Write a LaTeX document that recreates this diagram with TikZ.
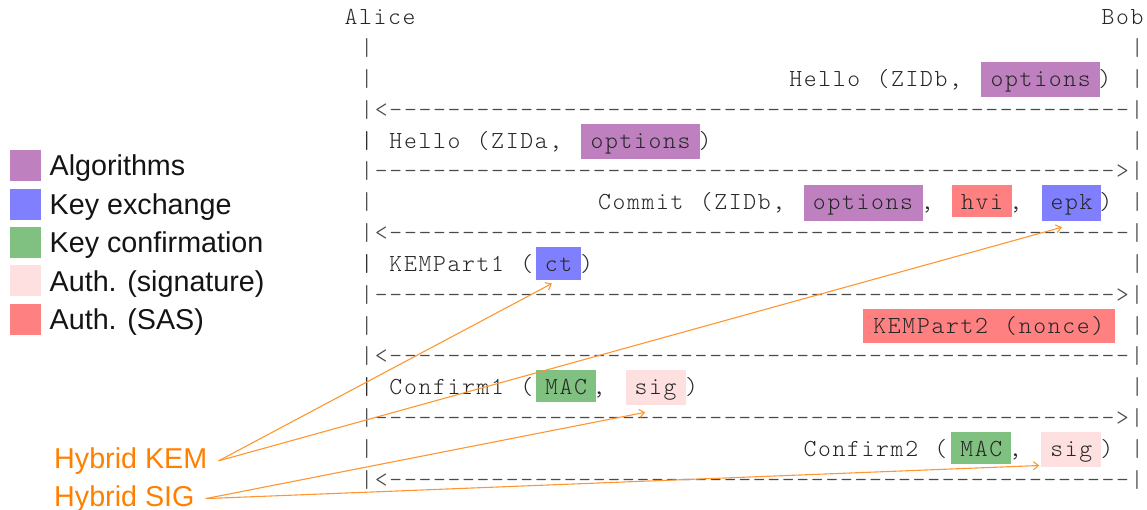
\documentclass[tikz,border=0pt]{standalone}
\usepackage{fontspec}
\usetikzlibrary{arrows.meta}
\newfontfamily\ascfont{lmmonolt10-regular.otf}
\newfontfamily\lsans{Liberation Sans}
\definecolor{calg}{HTML}{BF80BF}
\definecolor{ckex}{HTML}{8080FF}
\definecolor{ckc}{HTML}{80C080}
\definecolor{csig}{HTML}{FFE0E0}
\definecolor{csas}{HTML}{FF8080}
\definecolor{hybc}{HTML}{FF8000}
\definecolor{hybl}{HTML}{FF9630}
\definecolor{txt}{HTML}{262626}
\definecolor{artc}{HTML}{4A4A4A}
\ExplSyntaxOn
\NewDocumentCommand\asc{m}{\str_map_inline:nn{#1}{\makebox[14.534pt][c]{##1}}}
\NewDocumentCommand\dashes{}{\prg_replicate:nn{51}{\makebox[14.534pt][c]{-}}}
\ExplSyntaxOff
\tikzset{
  mono/.style={inner sep=0pt, anchor=base west, font=\ascfont\fontsize{24.5pt}{30pt}\selectfont, text=txt},
  art/.style={mono, text=artc},
  hl/.style 2 args={mono, fill=#1, minimum width=#2, text height=24.3pt, text depth=10.8pt},
  shallow/.style={text depth=7.3pt},
  sq/.style={anchor=north west, minimum width=31pt, minimum height=31pt, inner sep=0pt, draw=none},
  leg/.style={anchor=base west, inner sep=0pt, font=\lsans\fontsize{28.7pt}{30pt}\selectfont, text=black!92},
  hyb/.style={anchor=base west, inner xsep=11pt, inner ysep=0pt, font=\lsans\fontsize{28.7pt}{30pt}\selectfont, text=hybc},
  harr/.style={draw=hybl, line width=1.1pt, -{Straight Barb[length=5pt,width=8pt,line width=1.1pt]}}
}
\begin{document}
\begin{tikzpicture}[x=1pt,y=-1pt]
\useasboundingbox (0,0) rectangle (1147,510);
% legend
\node[sq, fill=calg] (s1) at (10,150) {};
\node[sq, fill=ckex] (s2) at (10,188.4) {};
\node[sq, fill=ckc]  (s3) at (10,226.8) {};
\node[sq, fill=csig] (s4) at (10,265.2) {};
\node[sq, fill=csas] (s5) at (10,303.6) {};
\node[leg] (l1) at (49.5,176) {Algorithms};
\node[leg] (l2) at (49.5,214.4) {Key exchange};
\node[leg] (l3) at (49.5,252.8) {Key confirmation};
\node[leg] (l4) at (49.5,291.2) {Auth. (signature)};
\node[leg] (l5) at (49.5,329.6) {Auth. (SAS)};
% header
\node[mono] (alice) at (343.5,25) {\asc{Alice}};
\node[mono] (bob) at (1100.6,25) {\asc{Bob}};
% row 1
\node[art] (p1l) at (359.4,55.8) {\asc{|}};
\node[art] (p1r) at (1129.7,55.8) {\asc{|}};
% row 2
\node[art] (p2l) at (359.4,86.6) {\asc{|}};
\node[mono] (hb) at (788.3,86.6) {\asc{Hello (ZIDb,}};
\node[hl={calg}{119pt}] (optb) at (981,86.6) {\asc{options}};
\node[mono] (hbc) at (1097.2,86.6) {\asc{)}};
\node[art] (p2r) at (1129.7,86.6) {\asc{|}};
% row 3
\node[art] (d3) at (359.4,117.4) {\asc{|<}\dashes\asc{|}};
% row 4
\node[mono] (ha) at (359.4,148.2) {\asc{| Hello (ZIDa,}};
\node[hl={calg}{119.3pt}] (opta) at (580.7,148.2) {\asc{options}};
\node[mono] (hac) at (697.7,148.2) {\asc{)}};
\node[art] (p4r) at (1129.7,148.2) {\asc{|}};
% row 5
\node[art] (d5) at (359.4,179) {\asc{|}\dashes\asc{>|}};
% row 6
\node[art] (p6l) at (359.4,209.8) {\asc{|}};
\node[mono] (cm) at (597,209.8) {\asc{Commit (ZIDb,}};
\node[hl={calg}{119pt}] (optc) at (803.3,209.8) {\asc{options}};
\node[mono] (cm1) at (919.7,209.8) {\asc{,}};
\node[hl={csas}{59.7pt}, shallow] (hvi) at (952,209.8) {\asc{hvi}};
\node[mono] (cm2) at (1008.2,209.8) {\asc{,}};
\node[hl={ckex}{59.3pt}] (epk) at (1041.7,209.8) {\asc{epk}};
\node[mono] (cmc) at (1098.2,209.8) {\asc{)}};
\node[art] (p6r) at (1129.7,209.8) {\asc{|}};
% row 7
\node[art] (d7) at (359.4,240.6) {\asc{|<}\dashes\asc{|}};
% row 8
\node[mono] (k1) at (359.4,271.4) {\asc{| KEMPart1 (}};
\node[hl={ckex}{44.7pt}, text depth=8.6pt] (ct) at (536,271.4) {\asc{ct}};
\node[mono] (k1c) at (579.2,271.4) {\asc{)}};
\node[art] (p8r) at (1129.7,271.4) {\asc{|}};
% row 9
\node[art] (d9) at (359.4,302.2) {\asc{|}\dashes\asc{>|}};
% row 10
\node[art] (p10l) at (359.4,333) {\asc{|}};
\node[hl={csas}{252.7pt}, text depth=9.7pt] (k2) at (862.3,333) {\asc{KEMPart2 (nonce)}};
\node[art] (p10r) at (1129.7,333) {\asc{|}};
% row 11
\node[art] (d11) at (359.4,363.8) {\asc{|<}\dashes\asc{|}};
% row 12
\node[mono] (c1) at (359.4,394.6) {\asc{| Confirm1 (}};
\node[hl={ckc}{59.7pt}, shallow] (mac1) at (536,394.6) {\asc{MAC}};
\node[mono] (c1m) at (591.7,394.6) {\asc{,}};
\node[hl={csig}{60pt}] (sig1) at (625.3,394.6) {\asc{sig}};
\node[mono] (c1c) at (684.2,394.6) {\asc{)}};
\node[art] (p12r) at (1129.7,394.6) {\asc{|}};
% row 13
\node[art] (d13) at (359.4,425.4) {\asc{|}\dashes\asc{>|}};
% row 14
\node[art] (p14l) at (359.4,456.2) {\asc{|}};
\node[mono] (c2) at (802.5,456.2) {\asc{Confirm2 (}};
\node[hl={ckc}{60pt}, shallow] (mac2) at (951,456.2) {\asc{MAC}};
\node[mono] (c2m) at (1007.7,456.2) {\asc{,}};
\node[hl={csig}{60pt}] (sig2) at (1041,456.2) {\asc{sig}};
\node[mono] (c2c) at (1099.2,456.2) {\asc{)}};
\node[art] (p14r) at (1129.7,456.2) {\asc{|}};
% row 15
\node[art] (d15) at (359.4,487) {\asc{|<}\dashes\asc{|}};
% hybrid labels
\node[hyb] (hkem) at (43,468.3) {Hybrid KEM};
\node[hyb] (hsig) at (43,506) {Hybrid SIG};
\draw[harr] (hkem.east) -- ([xshift=-6.6pt,yshift=-3.3pt]ct.south);
\draw[harr] (hkem.east) -- ([xshift=-9.6pt,yshift=-6.4pt]epk.south);
\draw[harr] (hsig.east) -- ([xshift=-10.3pt,yshift=-6.7pt]sig1.south);
\draw[harr] (hsig.east) -- ([xshift=-1.7pt,yshift=1.7pt]sig2.south west);
\end{tikzpicture}
\end{document}
